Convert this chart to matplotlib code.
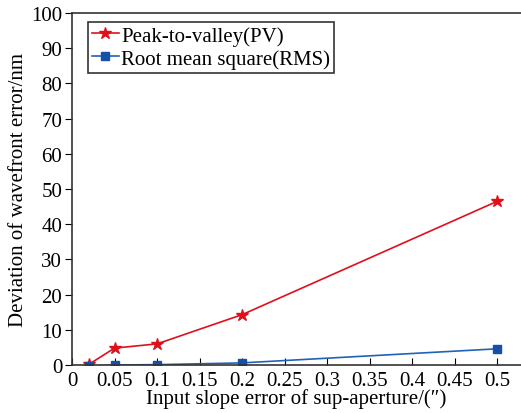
import matplotlib
matplotlib.use("Agg")
import matplotlib.pyplot as plt

slope_err = [0.02, 0.05, 0.1, 0.2, 0.5]
pv_values = [0.2, 4.8, 6.0, 14.3, 46.5]
rms_values = [-0.3, 0.0, 0.1, 0.6, 4.6]
x_ticks = [0, 0.05, 0.1, 0.15, 0.2, 0.25, 0.3, 0.35, 0.4, 0.45, 0.5]
x_labels = ["0", "0.05", "0.1", "0.15", "0.2", "0.25", "0.3", "0.35", "0.4", "0.45", "0.5"]
y_ticks = list(range(0, 101, 10))

plt.rcParams['font.family'] = ['Liberation Serif', 'DejaVu Serif']
plt.rcParams['mathtext.fontset'] = 'stix'

fig = plt.figure(figsize=(5.21, 4.14), dpi=100)
ax = fig.add_axes([72 / 521, 48 / 414, 1 - 72 / 521, 352 / 414])

ax.plot(slope_err, pv_values, color='#e0101a', lw=1.2, marker='*', ms=9,
        label='Peak-to-valley(PV)')
ax.plot(slope_err, rms_values, color='#1f63b8', lw=1.2, marker='s', ms=6,
        mfc='#1450a8', mec='#1450a8', label='Root mean square(RMS)')

ax.set_xlim(0, 0.528)
ax.set_ylim(0, 100)
ax.set_xticks(x_ticks)
ax.set_xticklabels(x_labels)
ax.set_yticks(y_ticks)
ax.tick_params(axis='x', direction='in', labelsize=15, length=5, pad=4)
ax.tick_params(axis='y', direction='out', labelsize=15, length=5, pad=2)
ax.spines['right'].set_visible(False)
for s in ax.spines.values():
    s.set_color('#333333')
    s.set_linewidth(1.2)

ax.set_xlabel('Input slope error of sup-aperture/(″)', fontsize=15, labelpad=-1)
ax.set_ylabel('Deviation of wavefront error/nm', fontsize=15, labelpad=2)

leg = ax.legend(loc='upper left', bbox_to_anchor=(0.035, 0.975), fontsize=15,
                handlelength=1.3, handletextpad=0.1, borderpad=0.2,
                labelspacing=0.15, fancybox=False, framealpha=1,
                edgecolor='#333333', borderaxespad=0)
leg.get_frame().set_linewidth(1.2)

fig.savefig('out.png', dpi=100)
